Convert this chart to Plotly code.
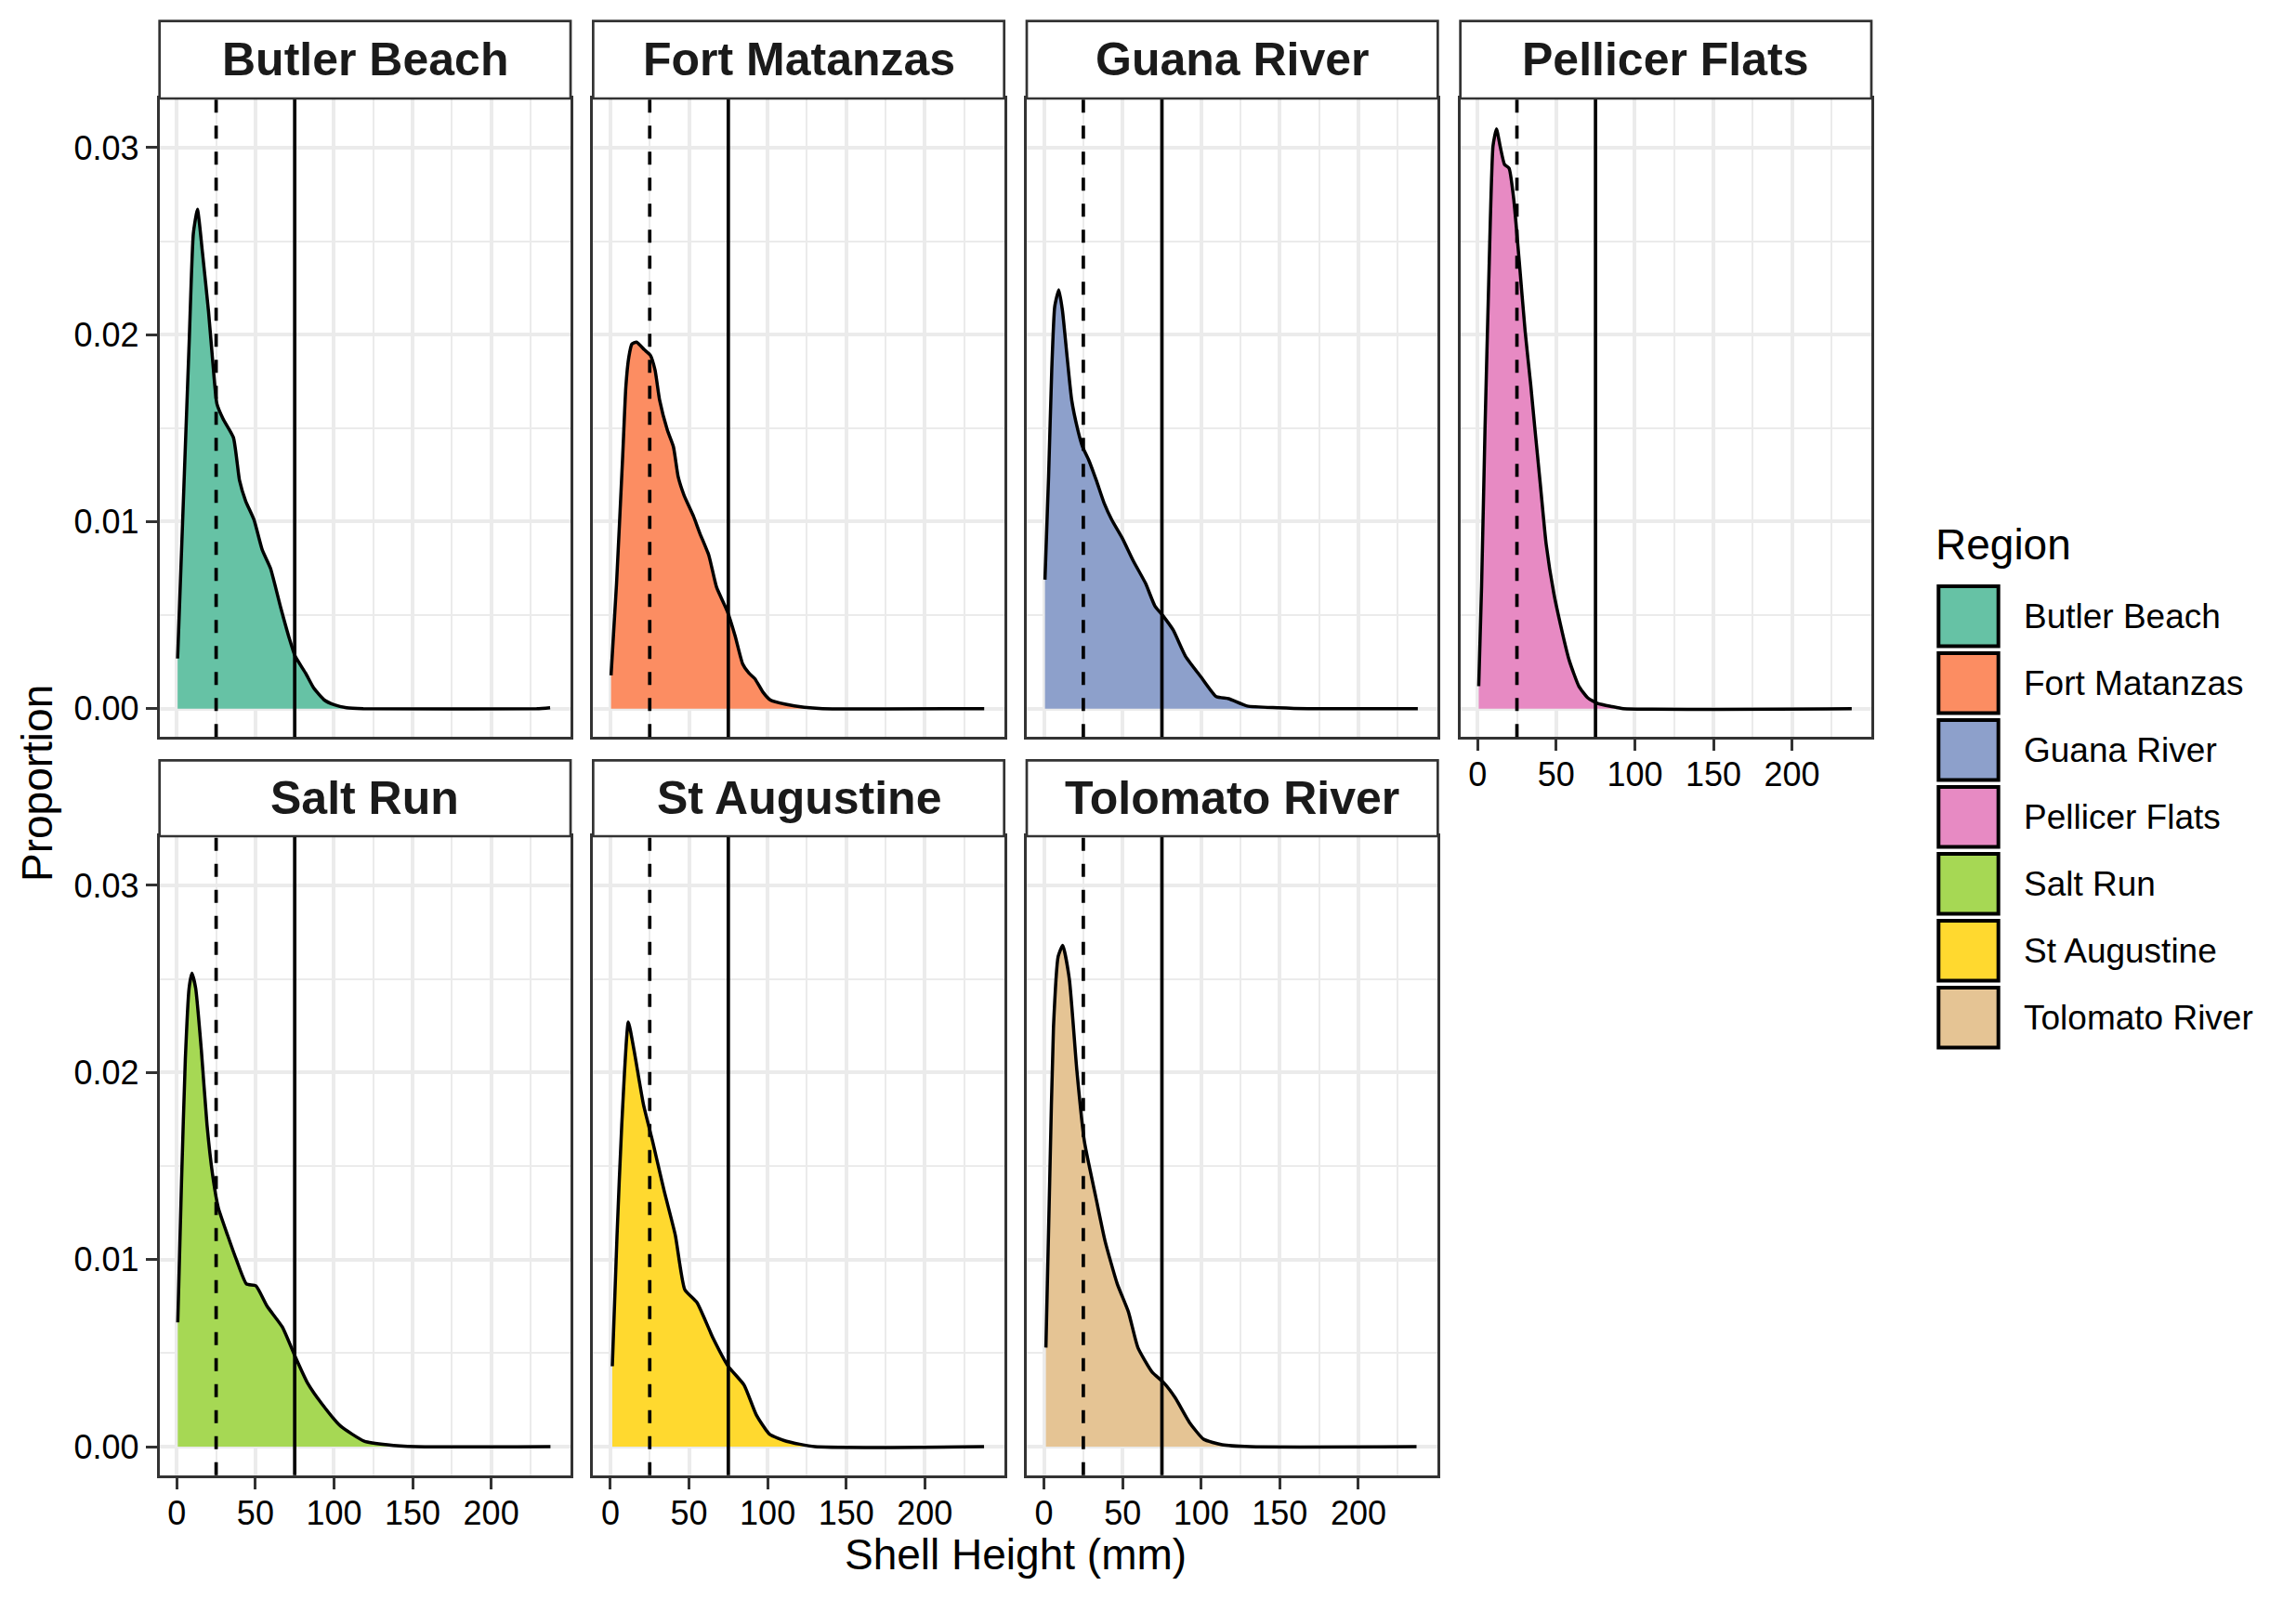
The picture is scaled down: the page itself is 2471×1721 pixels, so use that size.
import plotly.graph_objects as go

# ----------------------------- Data -------------------------------------
regions = ["Butler Beach", "Fort Matanzas", "Guana River", "Pellicer Flats",
           "Salt Run", "St Augustine", "Tolomato River"]
region_colors = ["#66C2A5", "#FC8D62", "#8DA0CB", "#E78AC3",
                 "#A6D854", "#FFD92F", "#E5C494"]

# density curves (shell height mm -> proportion)
butler_x = [0.5, 4.5, 7.9, 10.5, 13.1, 16.3, 20.2, 22.8, 25.5, 29.4, 36.0, 39.9, 43.8,
            49.1, 54.3, 59.6, 66.1, 71.4, 75.3, 81.9, 87.1, 93.7, 100.3, 108, 118.6, 229, 237.5]
butler_y = [0.00268, 0.0119, 0.0197, 0.0254, 0.0267, 0.0244, 0.0212, 0.0186, 0.0163, 0.0155,
            0.0145, 0.0122, 0.0111, 0.0101, 0.0085, 0.0075, 0.0054, 0.0038, 0.0028, 0.0019,
            0.0011, 0.00047, 0.0002, 0.00005, 0.0, 0.0, 0.00005]

matanzas_x = [0.4, 3.9, 7.8, 9.8, 11.7, 13.7, 16.6, 21.5, 25.4, 28.4, 31.3, 36.2, 40.1, 43.1,
              46.9, 52.8, 56.8, 62.6, 67.5, 74.4, 79.3, 84.1, 88.1, 91.9, 96.9, 101.8, 111.5,
              123.3, 135, 237.8]
matanzas_y = [0.00178, 0.0067, 0.0135, 0.0172, 0.0188, 0.0195, 0.0196, 0.0192, 0.0189, 0.0181,
              0.0165, 0.0149, 0.0140, 0.0124, 0.0114, 0.0103, 0.0094, 0.0082, 0.0065, 0.0052,
              0.0039, 0.0024, 0.0019, 0.0016, 0.0009, 0.00046, 0.00023, 0.00007, 0.0, 0.0]

guana_x = [0.6, 2.9, 4.9, 6.8, 9.4, 11.7, 14.7, 17.6, 21.5, 24.5, 28.4, 33.3, 38.2, 43.1, 49.9,
           56.8, 64.6, 70.5, 76.3, 82.2, 90.0, 99.8, 109.6, 117.4, 129.2, 148.7, 168, 237.8]
guana_y = [0.0069, 0.0124, 0.0181, 0.0215, 0.0224, 0.0213, 0.0188, 0.0165, 0.0149, 0.0140,
           0.0133, 0.0122, 0.0110, 0.0101, 0.0091, 0.0079, 0.0067, 0.0055, 0.0049, 0.0042,
           0.0028, 0.0017, 0.00064, 0.00053, 0.00014, 0.00005, 0.0, 0.0]

pellicer_x = [0.7, 2.5, 4.7, 7.3, 9.8, 12.0, 14.5, 17.1, 20.0, 22.9, 26.5, 30.2, 33.8, 36.4,
              40.0, 43.6, 48.4, 52.7, 58.2, 64.4, 70.2, 76.4, 85.5, 92.7, 238]
pellicer_y = [0.0012, 0.0065, 0.0150, 0.0236, 0.0301, 0.0310, 0.0300, 0.0291, 0.0289, 0.0273,
              0.0239, 0.0202, 0.0173, 0.0150, 0.0119, 0.0088, 0.0062, 0.0045, 0.0026, 0.0012,
              0.00057, 0.00028, 0.00011, 0.0, 0.0]

saltrun_x = [0.6, 3.0, 5.4, 7.8, 9.6, 12.0, 15.6, 19.2, 22.8, 26.3, 32.3, 38.3, 44.3, 50.3,
             57.5, 67.1, 75.4, 83.2, 92.2, 104.2, 119.2, 134, 152, 237.7]
saltrun_y = [0.00665, 0.0142, 0.0207, 0.0245, 0.0253, 0.0245, 0.0212, 0.0172, 0.0145, 0.0128,
             0.0113, 0.0099, 0.0087, 0.0086, 0.0075, 0.0064, 0.0048, 0.0034, 0.0023, 0.0011,
             0.0003, 0.0001, 0.0, 0.0]

staug_x = [1.2, 4.2, 7.2, 11.4, 15.0, 21.0, 26.9, 34.1, 41.3, 47.3, 55.1, 65.3, 74.9, 85.0,
           92.8, 101.2, 112, 130, 237.7]
staug_y = [0.0043, 0.0113, 0.0172, 0.0227, 0.0212, 0.0183, 0.0163, 0.0137, 0.0113, 0.0084,
           0.0077, 0.0058, 0.0043, 0.0033, 0.0017, 0.00067, 0.00029, 0.0, 0.0]

tolomato_x = [1.2, 3.6, 6.0, 9.0, 11.9, 16.1, 20.9, 25.7, 32.8, 38.8, 46.6, 53.7, 59.7, 68.7,
              76.4, 83.6, 92.5, 101.5, 113.4, 131, 237]
tolomato_y = [0.0053, 0.0142, 0.0224, 0.0262, 0.0268, 0.0250, 0.0201, 0.0163, 0.0134, 0.0110,
              0.0087, 0.0072, 0.0053, 0.0040, 0.0034, 0.0026, 0.0013, 0.0004, 0.0001, 0.0, 0.0]

curves_x = [butler_x, matanzas_x, guana_x, pellicer_x, saltrun_x, staug_x, tolomato_x]
curves_y = [butler_y, matanzas_y, guana_y, pellicer_y, saltrun_y, staug_y, tolomato_y]

# reference sizes (mm): dashed = seed size, solid = legal size
size_lines = [25, 75]
size_dashes = ["14px,14px", "solid"]

x_ticks = [0, 50, 100, 150, 200]
x_minor = [25, 75, 125, 175, 225]
y_ticks = [0.00, 0.01, 0.02, 0.03]
y_minor = [0.005, 0.015, 0.025]
x_range = [-11, 250.5]
y_range = [-0.00152, 0.03263]

# ------------------------------ Layout (page pixels) ----------------------
W, H = 2471, 1721
OFF = 8                      # page body margin
FW, FH = W - 2 * OFF, H - 2 * OFF


def px(x):
    return (x - OFF) / FW


def py(y):
    return 1 - (y - OFF) / FH


col_left = [171.7, 638.35, 1105.0, 1571.65]
panel_w = 442.35
row_pos = [(22.7, 106.0, 793.3), (818.3, 900.0, 1587.7)]   # strip top, panel top, panel bottom
FONT = "Liberation Sans"
BORDER = "#333333"
GRID = "#EBEBEB"

fig = go.Figure()

for i, name in enumerate(regions):
    r, c = divmod(i, 4)
    n = i + 1
    xa = "x" if n == 1 else f"x{n}"
    ya = "y" if n == 1 else f"y{n}"
    strip_top, p_top, p_bot = row_pos[r]
    x0, x1 = px(col_left[c]), px(col_left[c] + panel_w)
    y0, y1 = py(p_bot), py(p_top)
    s1 = py(strip_top)

    fig.add_trace(go.Scatter(
        x=curves_x[i], y=curves_y[i], mode="lines", fill="tozeroy",
        fillcolor=region_colors[i],
        line=dict(color="black", width=3.5, shape="spline", smoothing=0.5),
        xaxis=xa, yaxis=ya, showlegend=False, hoverinfo="skip"
    ))

    show_x = (r == 1) or (c == 3)
    show_y = (c == 0)

    fig.update_layout({
        ("xaxis" if n == 1 else f"xaxis{n}"): dict(
            domain=[x0, x1], anchor=ya, range=x_range,
            tickmode="array", tickvals=x_ticks,
            showticklabels=show_x, ticks="outside" if show_x else "",
            ticklen=12, tickwidth=3, tickcolor=BORDER, ticklabelstandoff=-5,
            tickfont=dict(family=FONT, size=36, color="black"),
            showgrid=True, gridcolor=GRID, gridwidth=3.5,
            minor=dict(tickvals=x_minor, showgrid=True, gridcolor=GRID, gridwidth=1.8, ticks=""),
            showline=True, mirror=True, linecolor=BORDER, linewidth=2.7,
            zeroline=False, fixedrange=True
        ),
        ("yaxis" if n == 1 else f"yaxis{n}"): dict(
            domain=[y0, y1], anchor=xa, range=y_range,
            tickmode="array", tickvals=y_ticks, tickformat=".2f",
            showticklabels=show_y, ticks="outside" if show_y else "",
            ticklen=12, tickwidth=3, tickcolor=BORDER,
            tickfont=dict(family=FONT, size=36, color="black"),
            showgrid=True, gridcolor=GRID, gridwidth=3.5,
            minor=dict(tickvals=y_minor, showgrid=True, gridcolor=GRID, gridwidth=1.8, ticks=""),
            showline=True, mirror=True, linecolor=BORDER, linewidth=2.7,
            zeroline=False, fixedrange=True
        ),
    })

    # seed / legal size reference lines
    for v, d in zip(size_lines, size_dashes):
        fig.add_shape(type="line", xref=xa, yref=f"{ya} domain",
                      x0=v, x1=v, y0=0, y1=1,
                      line=dict(color="black", width=3.7, dash=d))

    # facet strip
    fig.add_shape(type="rect", xref="paper", yref="paper",
                  x0=x0, x1=x1, y0=y1, y1=s1,
                  fillcolor="white", line=dict(color=BORDER, width=2.7))
    fig.add_annotation(text=name, xref="paper", yref="paper",
                       x=(x0 + x1) / 2, y=(y1 + s1) / 2,
                       showarrow=False, xanchor="center", yanchor="middle",
                       font=dict(family=FONT, size=50, color="#1A1A1A", weight="bold"))

# ------------------------------ Axis titles -------------------------------
fig.add_annotation(text="Shell Height (mm)", xref="paper", yref="paper",
                   x=px((col_left[0] + col_left[3] + panel_w) / 2), y=py(1673),
                   showarrow=False, xanchor="center", yanchor="middle",
                   font=dict(family=FONT, size=46, color="black"))
fig.add_annotation(text="Proportion", xref="paper", yref="paper",
                   x=px(40), y=py(843), textangle=-90,
                   showarrow=False, xanchor="center", yanchor="middle",
                   font=dict(family=FONT, size=46, color="black"))

# ------------------------------ Legend (drawn by hand) ---------------------
fig.add_annotation(text="Region", xref="paper", yref="paper",
                   x=px(2081), y=py(586), showarrow=False,
                   xanchor="left", yanchor="middle",
                   font=dict(family=FONT, size=46, color="black"))
for i, name in enumerate(regions):
    top = 631 + i * 72
    fig.add_shape(type="rect", xref="paper", yref="paper",
                  x0=px(2086.3), x1=px(2150.7), y0=py(top + 64.4), y1=py(top),
                  fillcolor=region_colors[i], line=dict(color="black", width=4))
    fig.add_annotation(text=name, xref="paper", yref="paper",
                       x=px(2176), y=py(top + 32.2), showarrow=False,
                       xanchor="left", yanchor="middle",
                       font=dict(family=FONT, size=37, color="black"))

fig.update_layout(
    width=FW, height=FH,
    margin=dict(l=0, r=0, t=0, b=0),
    plot_bgcolor="white", paper_bgcolor="white",
    showlegend=False
)

fig.write_html("out.html")
